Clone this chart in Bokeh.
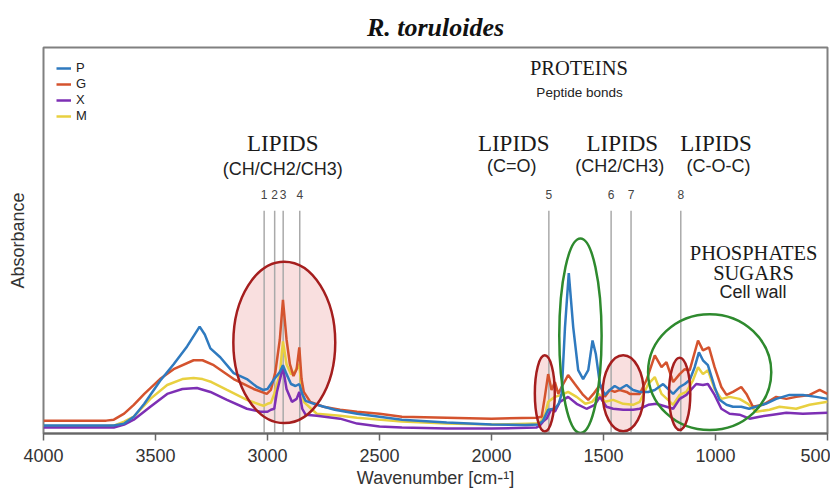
from bokeh.plotting import figure
from bokeh.models import Range1d, FixedTicker, Legend, LegendItem
from bokeh.core.properties import value
from bokeh.embed import file_html
from bokeh.resources import INLINE

# ---------------- data (wavenumber [cm-1], absorbance a.u.) ----------------
p_wn = [4000, 3750, 3686, 3640, 3597, 3550, 3480, 3419, 3359, 3303, 3280, 3255, 3211, 3151, 3092, 3047,
        3020, 3000, 2970, 2945, 2931, 2915, 2895, 2875, 2858, 2845, 2830, 2780, 2700, 2600, 2500, 2400,
        2200, 2000, 1850, 1790, 1770, 1747, 1717, 1700, 1687, 1672, 1655, 1635, 1613, 1591, 1568, 1549,
        1534, 1516, 1494, 1472, 1450, 1427, 1397, 1368, 1338, 1300, 1271, 1234, 1212, 1189, 1160, 1137,
        1115, 1093, 1074, 1056, 1034, 1004, 982, 951, 922, 885, 850, 820, 776, 729, 670, 610, 550, 500]
p_abs = [0.08, 0.08, 0.08, 0.10, 0.17, 0.30, 0.53, 0.70, 0.88, 1.08, 1.00, 0.86, 0.77, 0.61, 0.55, 0.47,
         0.44, 0.45, 0.55, 0.62, 0.69, 0.60, 0.50, 0.48, 0.50, 0.40, 0.33, 0.29, 0.24, 0.20, 0.17, 0.14,
         0.11, 0.09, 0.085, 0.09, 0.13, 0.24, 0.25, 0.30, 0.40, 1.07, 1.62, 1.07, 0.64, 0.55, 0.64, 0.94,
         0.80, 0.50, 0.39, 0.44, 0.48, 0.45, 0.49, 0.44, 0.42, 0.42, 0.44, 0.50, 0.45, 0.40, 0.47, 0.50,
         0.54, 0.67, 0.82, 0.74, 0.69, 0.47, 0.34, 0.29, 0.27, 0.27, 0.25, 0.27, 0.30, 0.35, 0.39, 0.39, 0.37, 0.35]

g_wn = [4000, 3720, 3686, 3640, 3597, 3550, 3480, 3419, 3330, 3290, 3240, 3151, 3062, 3003, 2985, 2965,
        2945, 2931, 2915, 2900, 2884, 2870, 2858, 2848, 2838, 2809, 2750, 2676, 2600, 2500, 2400, 2200,
        2000, 1800, 1776, 1762, 1747, 1732, 1717, 1702, 1687, 1658, 1628, 1591, 1568, 1545, 1516, 1494,
        1472, 1450, 1427, 1397, 1383, 1338, 1308, 1271, 1241, 1219, 1189, 1160, 1137, 1115, 1078, 1056,
        1029, 1004, 974, 951, 922, 885, 862, 833, 788, 729, 684, 640, 580, 535, 500]
g_abs = [0.13, 0.13, 0.14, 0.20, 0.29, 0.40, 0.55, 0.65, 0.74, 0.74, 0.69, 0.55, 0.45, 0.40, 0.44, 0.62,
         0.95, 1.35, 0.95, 0.70, 0.58, 0.65, 0.87, 0.55, 0.42, 0.32, 0.27, 0.24, 0.22, 0.20, 0.17, 0.16,
         0.15, 0.16, 0.17, 0.37, 0.60, 0.44, 0.52, 0.40, 0.47, 0.59, 0.50, 0.39, 0.34, 0.40, 0.49, 0.37,
         0.44, 0.42, 0.44, 0.42, 0.40, 0.40, 0.54, 0.79, 0.67, 0.72, 0.52, 0.60, 0.65, 0.64, 0.94, 0.84,
         0.87, 0.67, 0.47, 0.39, 0.42, 0.47, 0.40, 0.27, 0.29, 0.37, 0.35, 0.37, 0.39, 0.44, 0.40]

x_wn = [4000, 3720, 3686, 3640, 3597, 3523, 3448, 3380, 3315, 3255, 3181, 3092, 3032, 3000, 2985, 2970,
        2958, 2931, 2915, 2891, 2870, 2858, 2845, 2830, 2780, 2676, 2600, 2500, 2400, 2200, 2000, 1800,
        1784, 1770, 1754, 1732, 1717, 1695, 1658, 1620, 1576, 1539, 1516, 1487, 1457, 1412, 1368, 1338,
        1300, 1264, 1219, 1189, 1160, 1130, 1086, 1056, 1034, 1004, 974, 937, 893, 848, 803, 744, 684, 610, 500]
x_abs = [0.06, 0.06, 0.06, 0.09, 0.14, 0.27, 0.40, 0.45, 0.46, 0.42, 0.34, 0.25, 0.22, 0.22, 0.24, 0.25,
         0.42, 0.67, 0.45, 0.32, 0.35, 0.42, 0.25, 0.19, 0.18, 0.15, 0.10, 0.07, 0.06, 0.05, 0.05, 0.06,
         0.08, 0.12, 0.15, 0.25, 0.22, 0.32, 0.37, 0.30, 0.25, 0.29, 0.37, 0.27, 0.25, 0.24, 0.24, 0.25,
         0.29, 0.30, 0.27, 0.25, 0.35, 0.39, 0.50, 0.49, 0.50, 0.39, 0.25, 0.20, 0.19, 0.15, 0.17, 0.19, 0.21, 0.20, 0.21]

m_wn = [4000, 3720, 3686, 3640, 3597, 3523, 3448, 3380, 3330, 3290, 3250, 3181, 3092, 3032, 3018, 3000,
        2985, 2970, 2945, 2931, 2915, 2895, 2880, 2858, 2848, 2838, 2800, 2780, 2676, 2600, 2400, 2200,
        2000, 1800, 1780, 1760, 1747, 1717, 1687, 1658, 1620, 1581, 1551, 1521, 1494, 1457, 1412, 1368,
        1338, 1300, 1271, 1241, 1212, 1189, 1160, 1130, 1100, 1078, 1056, 1034, 1004, 974, 937, 893,
        855, 818, 759, 714, 640, 580, 500]
m_abs = [0.075, 0.075, 0.08, 0.12, 0.17, 0.35, 0.49, 0.55, 0.56, 0.55, 0.52, 0.44, 0.34, 0.29, 0.28, 0.30,
         0.31, 0.40, 0.60, 0.93, 0.70, 0.60, 0.62, 0.70, 0.45, 0.32, 0.24, 0.20, 0.18, 0.16, 0.12, 0.10,
         0.09, 0.10, 0.12, 0.20, 0.32, 0.37, 0.39, 0.42, 0.37, 0.30, 0.32, 0.40, 0.32, 0.34, 0.30, 0.29,
         0.32, 0.50, 0.57, 0.40, 0.34, 0.29, 0.39, 0.42, 0.54, 0.67, 0.60, 0.64, 0.45, 0.35, 0.37, 0.35,
         0.30, 0.22, 0.24, 0.27, 0.25, 0.29, 0.32]

band_wn = [3015, 2968, 2930, 2856, 1744, 1466, 1377, 1155]
band_num = ["1", "2", "3", "4", "5", "6", "7", "8"]
x_ticks = [4000, 3500, 3000, 2500, 2000, 1500, 1000, 500]

# ---------------- figure ----------------
p = figure(width=830, height=490, output_backend="svg", toolbar_location=None,
           x_range=Range1d(4000, 500), y_range=Range1d(0, 3.9),
           min_border_left=43, min_border_right=3, min_border_top=47, min_border_bottom=56,
           background_fill_color="white", border_fill_color="white")
p.grid.visible = False
p.outline_line_color = "#808080"
p.outline_line_width = 2

p.title.text = "R. toruloides"
p.title.text_font = "Liberation Serif"
p.title.text_font_style = "bold italic"
p.title.text_font_size = "26px"
p.title.align = "center"
p.title.vertical_align = "middle"
p.title.text_color = "#111111"

xa = p.xaxis[0]
xa.ticker = FixedTicker(ticks=x_ticks)
xa.axis_label = "Wavenumber [cm-\u00b9]"
xa.axis_label_text_font = "Liberation Sans"
xa.axis_label_text_font_style = "normal"
xa.axis_label_text_font_size = "18px"
xa.axis_label_text_color = "#333333"
xa.axis_label_standoff = 3
xa.major_label_text_font = "Liberation Sans"
xa.major_label_text_font_size = "18px"
xa.major_label_text_color = "#333333"
xa.major_label_standoff = 8
xa.major_tick_in = 0
xa.major_tick_out = 7
xa.minor_tick_line_color = None
xa.axis_line_color = "#666666"
xa.axis_line_width = 2
xa.major_tick_line_color = "#666666"
xa.major_tick_line_width = 1.5

ya = p.yaxis[0]
ya.ticker = FixedTicker(ticks=[])
ya.axis_label = "Absorbance"
ya.axis_label_text_font = "Liberation Sans"
ya.axis_label_text_font_style = "normal"
ya.axis_label_text_font_size = "18px"
ya.axis_label_text_color = "#333333"
ya.axis_label_standoff = 16
ya.axis_line_color = None
ya.major_tick_line_color = None
ya.minor_tick_line_color = None

# pink ellipse fills (behind curves)
red_x = [2925, 1762, 1412, 1160]
red_y = [0.92, 0.405, 0.407, 0.40]
red_w = [455, 89, 184, 95]
red_h = [1.63, 0.77, 0.77, 0.73]
grn_x = [1603, 1026]
grn_y = [0.987, 0.62]
grn_w = [189, 550]
grn_h = [1.97, 1.17]
p.ellipse(x=red_x, y=red_y, width=red_w, height=red_h, fill_color="#f2b8b8", fill_alpha=0.45, line_color=None)

# band marker lines
p.segment(x0=band_wn, y0=[0] * len(band_wn), x1=band_wn, y1=[2.25] * len(band_wn),
          line_color="#aaaaaa", line_width=1.5)
p.text(x=band_wn, y=[2.41] * len(band_wn), text=band_num, text_font=value("Liberation Sans"),
       text_font_size="12px", text_align="center", text_baseline="middle", text_color="#444444")

# spectra
colors = {"P": "#2f7abf", "G": "#d4532e", "X": "#7d2fb4", "M": "#e8d040"}
rM = p.line(m_wn, m_abs, line_color=colors["M"], line_width=2.5)
rX = p.line(x_wn, x_abs, line_color=colors["X"], line_width=2.5)
rG = p.line(g_wn, g_abs, line_color=colors["G"], line_width=2.5)
rP = p.line(p_wn, p_abs, line_color=colors["P"], line_width=2.5)

# ellipse outlines
p.ellipse(x=grn_x, y=grn_y, width=grn_w, height=grn_h, fill_color=None, line_color="#2e8a2e", line_width=2.5)
p.ellipse(x=red_x, y=red_y, width=red_w, height=red_h, fill_color=None, line_color="#a51e1e", line_width=2.5)

# annotations
serif = value("Liberation Serif")
sans = value("Liberation Sans")
p.text(x=[2932, 1901, 1416, 998], y=[2.935, 2.93, 2.93, 2.93], text=["LIPIDS"] * 4, text_font=serif,
       text_font_size="23px", text_align="center", text_baseline="middle", text_color="#1a1a1a")
p.text(x=[2932, 1910, 1427, 987], y=[2.67, 2.70, 2.70, 2.70],
       text=["(CH/CH2/CH3)", "(C=O)", "(CH2/CH3)", "(C-O-C)"], text_font=sans,
       text_font_size="18px", text_align="center", text_baseline="middle", text_color="#222222")
p.text(x=[1610, 830, 830], y=[3.69, 1.82, 1.62], text=["PROTEINS", "PHOSPHATES", "SUGARS"], text_font=serif,
       text_font_size="20.5px", text_align="center", text_baseline="middle", text_color="#1a1a1a")
p.text(x=[1607], y=[3.45], text=["Peptide bonds"], text_font=sans,
       text_font_size="13.5px", text_align="center", text_baseline="middle", text_color="#222222")
p.text(x=[833], y=[1.43], text=["Cell wall"], text_font=sans,
       text_font_size="18px", text_align="center", text_baseline="middle", text_color="#222222")

legend = Legend(items=[LegendItem(label="P", renderers=[rP]), LegendItem(label="G", renderers=[rG]),
                       LegendItem(label="X", renderers=[rX]), LegendItem(label="M", renderers=[rM])],
                location="top_left", border_line_color=None, background_fill_alpha=0,
                label_text_font="Liberation Sans", label_text_font_size="13px", label_text_color="#222222",
                glyph_width=15, glyph_height=12, label_height=12, spacing=1, padding=6, margin=13,
                label_standoff=5)
p.add_layout(legend)

open("out.html", "w").write(file_html(p, INLINE))
